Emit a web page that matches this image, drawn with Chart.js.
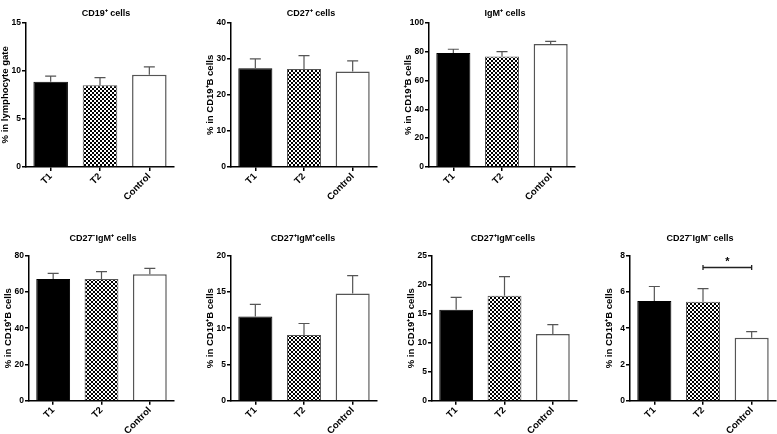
<!DOCTYPE html>
<html>
<head>
<meta charset="utf-8">
<script src="https://cdn.jsdelivr.net/npm/chart.js@4"></script>
<style>
  html, body { margin: 0; padding: 0; background: #fff; }
  #wrap { position: relative; width: 777px; height: 434px; overflow: hidden; }
  #wrap canvas { position: absolute; }
</style>
</head>
<body>
<div id="wrap"></div>
<script>
// groupes et valeurs (moyenne + SEM)
const groups = ['T1', 'T2', 'Control'];

const cd19Mean = [8.85, 8.5, 9.6];
const cd19Sem = [0.6, 0.8, 0.8];

const cd27Mean = [27.4, 27.2, 26.5];
const cd27Sem = [2.6, 3.7, 2.9];

const igmMean = [79.0, 76.6, 85.3];
const igmSem = [2.6, 3.4, 1.8];

const cd27nIgmpMean = [67.2, 67.2, 69.7];
const cd27nIgmpSem = [3.0, 4.0, 3.3];

const cd27pIgmpMean = [11.6, 9.05, 14.8];
const cd27pIgmpSem = [1.7, 1.6, 2.45];

const cd27pIgmnMean = [15.7, 18.1, 11.5];
const cd27pIgmnSem = [2.1, 3.3, 1.6];

const cd27nIgmnMean = [5.5, 5.46, 3.48];
const cd27nIgmnSem = [0.8, 0.72, 0.33];

const yMax = [15, 40, 100, 80, 20, 25, 8];
const yStep = [5, 10, 20, 20, 5, 5, 2];

const titles = ['CD19⁺ cells', 'CD27⁺ cells', 'IgM⁺ cells',
  'CD27⁻IgM⁺ cells', 'CD27⁺IgM⁺cells', 'CD27⁺IgM⁻cells', 'CD27⁻IgM⁻ cells'];
const yLabels = ['% in lymphocyte gate', '% in CD19⁺B cells', '% in CD19⁺B cells',
  '% in CD19⁺B cells', '% in CD19⁺B cells', '% in CD19⁺B cells', '% in CD19⁺B cells'];

// T2 vs Control, p < 0.05
const sigPairs = [null, null, null, null, null, null, { from: 1, to: 2, value: 7.35, label: '*' }];

const means = [cd19Mean, cd27Mean, igmMean, cd27nIgmpMean, cd27pIgmpMean, cd27pIgmnMean, cd27nIgmnMean];
const sems = [cd19Sem, cd27Sem, igmSem, cd27nIgmpSem, cd27pIgmpSem, cd27pIgmnSem, cd27nIgmnSem];

// mise en page : x de l'axe Y, largeur de la zone de tracé, rangée, centre du titre
const layout = [
  { axisX: 26, w: 148, row: 0, titleX: 106 },
  { axisX: 231, w: 146, row: 0, titleX: 311 },
  { axisX: 429, w: 146, row: 0, titleX: 505 },
  { axisX: 29, w: 145.5, row: 1, titleX: 103 },
  { axisX: 231, w: 146, row: 1, titleX: 303 },
  { axisX: 432, w: 145, row: 1, titleX: 503 },
  { axisX: 630, w: 146, row: 1, titleX: 700 },
];
const rows = [
  { top: 0, height: 215, plotTop: 22.7, titleY: 13.5, xH: 48 },
  { top: 225, height: 209, plotTop: 255.7, titleY: 239, xH: 33.3 },
];
const Y_W = 26, RIGHT = 6;
const FONT = "'Liberation Sans', Arial, sans-serif";

function checker() {
  const c = document.createElement('canvas');
  c.width = 4; c.height = 4;
  const g = c.getContext('2d');
  g.fillStyle = '#fff'; g.fillRect(0, 0, 4, 4);
  g.fillStyle = '#000'; g.fillRect(0, 0, 2, 2); g.fillRect(2, 2, 2, 2);
  return g.createPattern(c, 'repeat');
}
const pattern = checker();

// barres d'erreur (vers le haut seulement) + trait de significativité + titre
const errorBars = {
  id: 'errorBars',
  afterDatasetsDraw(chart, args, opts) {
    const ctx = chart.ctx;
    const y = chart.scales.y;
    const meta = chart.getDatasetMeta(0);
    ctx.save();
    ctx.strokeStyle = '#555';
    ctx.lineWidth = 1.2;
    meta.data.forEach((bar, i) => {
      const top = y.getPixelForValue(opts.mean[i] + opts.sem[i]);
      ctx.beginPath();
      ctx.moveTo(bar.x, bar.y);
      ctx.lineTo(bar.x, top);
      ctx.moveTo(bar.x - 5.5, top);
      ctx.lineTo(bar.x + 5.5, top);
      ctx.stroke();
    });
    const s = opts.sig;
    if (s) {
      const x1 = meta.data[s.from].x, x2 = meta.data[s.to].x;
      const yy = y.getPixelForValue(s.value);
      ctx.strokeStyle = '#222';
      ctx.lineWidth = 1.3;
      ctx.beginPath();
      ctx.moveTo(x1, yy); ctx.lineTo(x2, yy);
      ctx.moveTo(x1, yy - 2.5); ctx.lineTo(x1, yy + 2.5);
      ctx.moveTo(x2, yy - 2.5); ctx.lineTo(x2, yy + 2.5);
      ctx.stroke();
      ctx.fillStyle = '#000';
      ctx.font = 'bold 11px ' + FONT;
      ctx.textAlign = 'center';
      ctx.textBaseline = 'alphabetic';
      ctx.fillText(s.label, (x1 + x2) / 2, yy - 2);
    }
    ctx.fillStyle = '#000';
    ctx.font = 'bold 9px ' + FONT;
    ctx.textAlign = 'center';
    ctx.textBaseline = 'middle';
    ctx.fillText(opts.title, opts.titleX, opts.titleY);
    ctx.restore();
  },
};

const wrap = document.getElementById('wrap');

layout.forEach((L, k) => {
  const R = rows[L.row];
  const cv = document.createElement('canvas');
  const left = L.axisX - Y_W;
  cv.width = Y_W + L.w + RIGHT; cv.height = R.height;
  cv.style.left = left + 'px';
  cv.style.top = R.top + 'px';
  wrap.appendChild(cv);

  new Chart(cv.getContext('2d'), {
    type: 'bar',
    data: {
      labels: groups,
      datasets: [{
        data: means[k],
        backgroundColor: ['#000', pattern, '#fff'],
        borderColor: ['#000', '#555', '#555'],
        borderWidth: [1, 1, 1.5],
        barPercentage: 0.7,
        categoryPercentage: 1,
      }],
    },
    options: {
      responsive: false, animation: false,
      layout: { padding: { left: 0, right: RIGHT, top: R.plotTop - R.top, bottom: 0 } },
      plugins: {
        legend: { display: false },
        tooltip: { enabled: false },
        title: { display: false },
        errorBars: {
          mean: means[k], sem: sems[k], sig: sigPairs[k],
          title: titles[k], titleX: L.titleX - left, titleY: R.titleY - R.top,
        },
      },
      scales: {
        x: {
          afterFit: (s) => { s.height = R.xH; },
          border: { display: true, color: '#000', width: 1.5 },
          grid: { display: true, drawOnChartArea: false, offset: false, color: '#000', lineWidth: 1.5, tickLength: 4 },
          ticks: { color: '#000', maxRotation: 45, minRotation: 45, padding: 0,
            font: { family: FONT, size: 9.5, weight: 'bold' } },
        },
        y: {
          min: 0, max: yMax[k],
          afterFit: (s) => { s.width = Y_W; },
          border: { display: true, color: '#000', width: 1.5 },
          grid: { display: true, drawOnChartArea: false, color: '#000', lineWidth: 1.5, tickLength: 4 },
          ticks: { stepSize: yStep[k], color: '#000', padding: 1,
            font: { family: FONT, size: 8.5, weight: 'bold' } },
          title: { display: true, text: yLabels[k], color: '#000', padding: { top: 0, bottom: 2 },
            font: { family: FONT, size: 9.5, weight: 'bold' } },
        },
      },
    },
    plugins: [errorBars],
  });
});
</script>
</body>
</html>
